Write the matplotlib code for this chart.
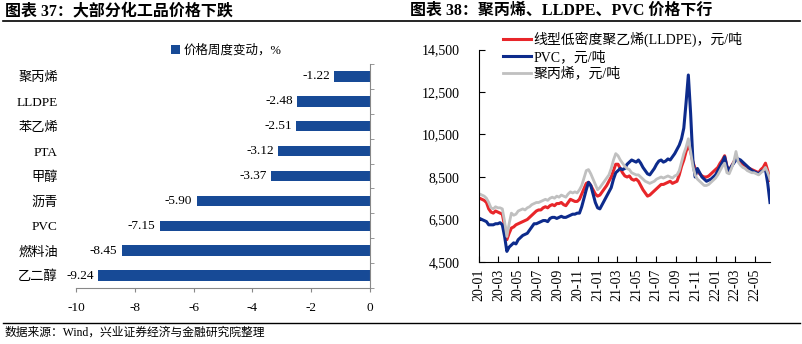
import matplotlib
matplotlib.use('Agg')
import matplotlib.pyplot as plt
import matplotlib.dates as mdates
from matplotlib.lines import Line2D
from matplotlib.ticker import FuncFormatter, FixedLocator
import pandas as pd

plt.rcParams['font.family'] = ['Liberation Serif', 'Noto Sans CJK SC']
plt.rcParams['axes.unicode_minus'] = False

# left panel: weekly price change, %
products = ['聚丙烯', 'LLDPE', '苯乙烯', 'PTA', '甲醇', '沥青', 'PVC', '燃料油', '乙二醇']
weekly_change = [-1.22, -2.48, -2.51, -3.12, -3.37, -5.90, -7.15, -8.45, -9.24]

# right panel: weekly prices, yuan/ton (Fridays, 2020-01-03 .. 2022-06-17)
weeks = pd.date_range('2020-01-03', '2022-06-17', freq='W-FRI')
lldpe = [
    7500, 7450, 7400, 7300, 7000,   # 2020-01
    6850, 6800, 6900, 6850,
    6800, 6750, 6200, 5550,
    5850, 6100, 6150, 6250,
    6300, 6350, 6400, 6450, 6500,
    6600, 6700, 6800, 6900,
    6950, 6950, 7050, 7100, 7050,
    7150, 7200, 7150, 7250,
    7250, 7300, 7200, 7150,
    7300, 7450, 7400, 7350, 7350,
    7450, 7700, 7950, 8200,
    8250, 8100, 7900, 7700,
    7600, 7650, 7800, 7950, 8100,   # 2021-01
    8300, 8500, 8800, 9100,
    9100, 8900, 8700, 8550,
    8500, 8550, 8400, 8350, 8400,
    8300, 8100, 7900, 7750,
    7600, 7650, 7750, 7850,
    7950, 8050, 8150, 8150, 8200,
    8250, 8300, 8200, 8250,
    8300, 8600, 9000, 9300,
    9700, 10000, 9700, 9200, 8900,
    8800, 8650, 8550, 8500,
    8500, 8550, 8650, 8750, 8850,
    8950, 9150, 9300, 9500,         # 2022-01
    9000, 8800, 9000, 9200,
    9400, 9300, 9150, 9100,
    9050, 8950, 8900, 8850, 8800,
    8750, 8700, 8850, 8950,
    9150, 8800, 8350,
]
pvc = [
    6550, 6500, 6450, 6400, 6250,   # 2020-01
    6250, 6250, 6300, 6300,
    6350, 6250, 5700, 5000,
    5200, 5300, 5400, 5350,
    5550, 5650, 5750, 5800, 5850,
    6000, 6150, 6300, 6300,
    6350, 6400, 6450, 6450, 6400,
    6550, 6600, 6600, 6550,
    6600, 6650, 6600, 6600,
    6650, 6700, 6750, 6750, 6800,
    6800, 7100, 7500, 7900,
    8250, 8100, 7700, 7300,
    7050, 7000, 7200, 7400, 7600,   # 2021-01
    7800, 8000, 8400, 8700,
    8800, 8900, 8850, 8900,
    9100, 9200, 9300, 9250, 9200,
    9300, 9150, 8950, 8800,
    8650, 8600, 8750, 8900,
    9100, 9250, 9300, 9200, 9250,
    9350, 9300, 9450, 9600,
    9800, 10000, 10300, 10800,
    12000, 13300, 11500, 9300, 8500,
    8900, 8700, 8500, 8400,
    8300, 8350, 8400, 8500, 8600,
    8800, 9000, 9200, 9450,         # 2022-01
    9000, 8800, 9000, 9150,
    9300, 9350, 9300, 9200,
    9100, 9000, 8900, 8800, 8750,
    8700, 8650, 8750, 8800,
    8850, 8200, 7300,
]
pp = [
    7700, 7650, 7600, 7500, 7300,   # 2020-01
    7050, 7000, 7100, 7050,
    7050, 7000, 6400, 5700,
    6300, 6800, 6700, 6750,
    6900, 6950, 7000, 6950, 7050,
    7100, 7200, 7250, 7300,
    7300, 7350, 7400, 7450, 7400,
    7500, 7550, 7500, 7600,
    7550, 7650, 7600, 7550,
    7700, 7800, 7750, 7800, 7750,
    7900, 8100, 8450, 8800,
    8850, 8650, 8400, 8150,
    7900, 8000, 8150, 8300, 8450,   # 2021-01
    8600, 8900, 9300, 9600,
    9500, 9300, 9150, 9000,
    8900, 8850, 8700, 8650, 8600,
    8600, 8500, 8400, 8300,
    8250, 8200, 8250, 8300,
    8400, 8450, 8500, 8450, 8500,
    8550, 8500, 8450, 8550,
    8600, 8800, 9200, 9600,
    9900, 10300, 9700, 9000, 8600,
    8400, 8300, 8200, 8100,
    8100, 8150, 8250, 8350, 8450,
    8600, 8800, 9000, 9150,         # 2022-01
    8700, 8650, 8900, 9200,
    9700, 9200, 9050, 8950,
    8900, 8800, 8750, 8700, 8700,
    8650, 8600, 8700, 8800,
    8950, 8700, 8400,
]

bar_color = '#174A96'
fig = plt.figure(figsize=(8.03, 3.44), dpi=100)

# ---- left: bar chart
ax1 = fig.add_axes([76 / 803, 1 - 288 / 344, 294 / 803, 224 / 344])
ypos = list(range(len(products)))[::-1]
bars = ax1.barh(ypos, weekly_change, height=0.42, color=bar_color, label='价格周度变动，%')
ax1.bar_label(bars, labels=['%.2f' % v for v in weekly_change], padding=3, fontsize=9.5)
ax1.set_xlim(-10, 0)
ax1.set_ylim(-0.5, len(products) - 0.5)
ax1.set_xticks(range(-10, 1, 2))
ax1.set_yticks(ypos)
ax1.set_yticklabels(products, fontsize=9.5)
ax1.yaxis.set_minor_locator(FixedLocator([i + 0.5 for i in range(-1, len(products))]))
ax1.tick_params(axis='y', which='major', length=0, pad=13)
ax1.tick_params(axis='y', which='minor', left=False, right=True, direction='out', length=3, color='#888888')
ax1.tick_params(axis='x', labelsize=9.5, length=3, color='#888888', pad=7)
for s in ['left', 'top']:
    ax1.spines[s].set_visible(False)
for s in ['right', 'bottom']:
    ax1.spines[s].set_color('#888888')
ax1.legend(loc='lower center', bbox_to_anchor=(0.51, 1.0), frameon=False, fontsize=9,
           handlelength=0.7, handleheight=0.7, handletextpad=0.3, borderaxespad=0.2)

# ---- right: price lines
ax2 = fig.add_axes([479 / 803, 1 - 262 / 344, 291 / 803, 212.5 / 344])
ax2.plot(weeks, lldpe, color='#E8262A', lw=2.2, label='线型低密度聚乙烯(LLDPE)，元/吨')
ax2.plot(weeks, pvc, color='#0D2B8C', lw=2.2, label='PVC，元/吨')
ax2.plot(weeks, pp, color='#C0C0C0', lw=2.0, label='聚丙烯，元/吨')
ax2.set_ylim(4500, 14500)
ax2.set_yticks(range(4500, 14501, 2000))
ax2.yaxis.set_major_formatter(FuncFormatter(lambda v, p: '{:,.0f}'.format(v)))
ax2.set_xlim(pd.Timestamp('2020-01-01'), pd.Timestamp('2022-06-17'))
ax2.xaxis.set_major_locator(mdates.MonthLocator(bymonth=[1, 3, 5, 7, 9, 11]))
ax2.xaxis.set_major_formatter(mdates.DateFormatter('%y-%m'))
ax2.tick_params(axis='x', rotation=90, labelsize=10, direction='in', length=4, pad=5)
ax2.tick_params(axis='y', labelsize=10, direction='in', length=4, pad=14)
for s in ['right', 'top']:
    ax2.spines[s].set_visible(False)
fig.legend(*ax2.get_legend_handles_labels(), loc='upper left', bbox_to_anchor=(503 / 803, 1 - 32 / 344),
           frameon=False, fontsize=10, handlelength=2.0, handletextpad=0.2, labelspacing=0.2,
           borderpad=0, borderaxespad=0)

# ---- titles, rules and source
fig.text(5 / 803, 1 - 11 / 344, '图表 37：大部分化工品价格下跌', fontsize=11.5, fontweight='bold', va='center')
fig.text(410 / 803, 1 - 11 / 344, '图表 38：聚丙烯、LLDPE、PVC 价格下行', fontsize=11.5, fontweight='bold', va='center')
fig.add_artist(Line2D([3 / 803, 800 / 803], [1 - 20.5 / 344] * 2, color='black', lw=1.2))
fig.add_artist(Line2D([3 / 803, 800 / 803], [1 - 322.5 / 344] * 2, color='black', lw=1.0))
fig.text(5 / 803, 1 - 333 / 344, '数据来源：Wind，兴业证券经济与金融研究院整理', fontsize=8.5, va='center')

fig.savefig('out.png', dpi=100)
